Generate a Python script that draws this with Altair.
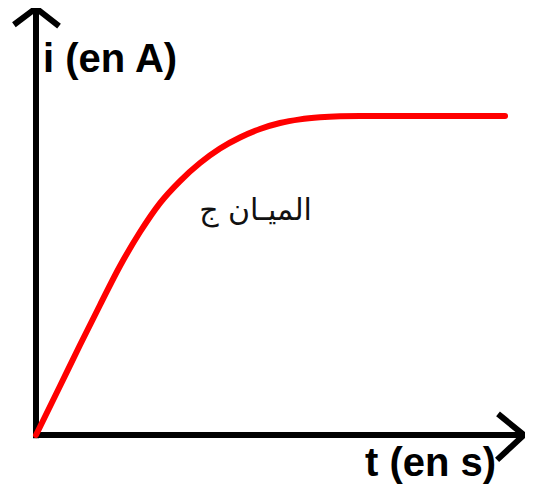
import altair as alt
import pandas as pd

# --- curve (t and i in arbitrary units) ---
t_vals = [0, 0.511, 0.936, 1.362, 1.787, 2.213, 2.638, 3.064, 3.489, 3.915, 4.340,
          4.766, 5.191, 5.617, 6.043, 6.468, 6.894, 9.979]
i_vals = [0, 0.768, 1.411, 2.038, 2.649, 3.182, 3.636, 3.981, 4.263, 4.491, 4.663,
          4.796, 4.890, 4.947, 4.979, 4.995, 5.000, 5.000]

# --- axis lines (drawn as arrows) ---
axis_t = [0, 0, -0.06, 10.38]
axis_i = [-0.05, 6.69, 0, 0]
axis_grp = ["v", "v", "h", "h"]

arrow_t = [-0.47, 0, 0.49, 9.83, 10.38, 9.81]
arrow_i = [6.43, 6.69, 6.41, 0.33, 0, -0.39]
arrow_grp = ["up", "up", "up", "right", "right", "right"]

# --- labels ---
lab_text = ["i (en A)", "t (en s)"]
lab_t = [0.15, 7.00]
lab_i = [5.69, -0.64]
note_text = ["الميـان ج"]
note_t = [5.87]
note_i = [3.37]

W, H = 517, 477
xs = alt.Scale(domain=[-0.5957, 10.404], nice=False, zero=False)
ys = alt.Scale(domain=[-0.7837, 6.6928], nice=False, zero=False)

curve_df = pd.DataFrame({"t": t_vals, "i": i_vals})
axis_df = pd.DataFrame({"t": axis_t, "i": axis_i, "g": axis_grp, "o": range(len(axis_t))})
arrow_df = pd.DataFrame({"t": arrow_t, "i": arrow_i, "g": arrow_grp, "o": range(len(arrow_t))})
lab_df = pd.DataFrame({"t": lab_t, "i": lab_i, "txt": lab_text})
note_df = pd.DataFrame({"t": note_t, "i": note_i, "txt": note_text})

X = alt.X("t:Q", scale=xs, axis=None)
Y = alt.Y("i:Q", scale=ys, axis=None)

axes = alt.Chart(axis_df).mark_line(color="black", strokeWidth=6, strokeCap="butt").encode(
    x=X, y=Y, detail="g:N", order="o:Q")
arrows = alt.Chart(arrow_df).mark_line(color="black", strokeWidth=6, strokeCap="butt",
                                       strokeJoin="miter").encode(
    x=X, y=Y, detail="g:N", order="o:Q")
curve = alt.Chart(curve_df).mark_line(color="#ff0000", strokeWidth=6, strokeCap="round",
                                      interpolate="monotone").encode(x=X, y=Y)
labels = alt.Chart(lab_df).mark_text(font="Liberation Sans", fontWeight="bold", fontSize=40,
                                     align="left", baseline="alphabetic", color="black").encode(
    x=X, y=Y, text="txt:N")
note = alt.Chart(note_df).mark_text(font="DejaVu Sans", fontSize=30, align="right",
                                    baseline="alphabetic", color="#111111").encode(
    x=X, y=Y, text="txt:N")

chart = alt.layer(axes, arrows, curve, labels, note).properties(
    width=W, height=H, padding=0, background="white",
    autosize=alt.AutoSizeParams(type="none")
).configure_view(stroke=None)

chart.save("out.html", embed_options={"renderer": "svg", "actions": False})
